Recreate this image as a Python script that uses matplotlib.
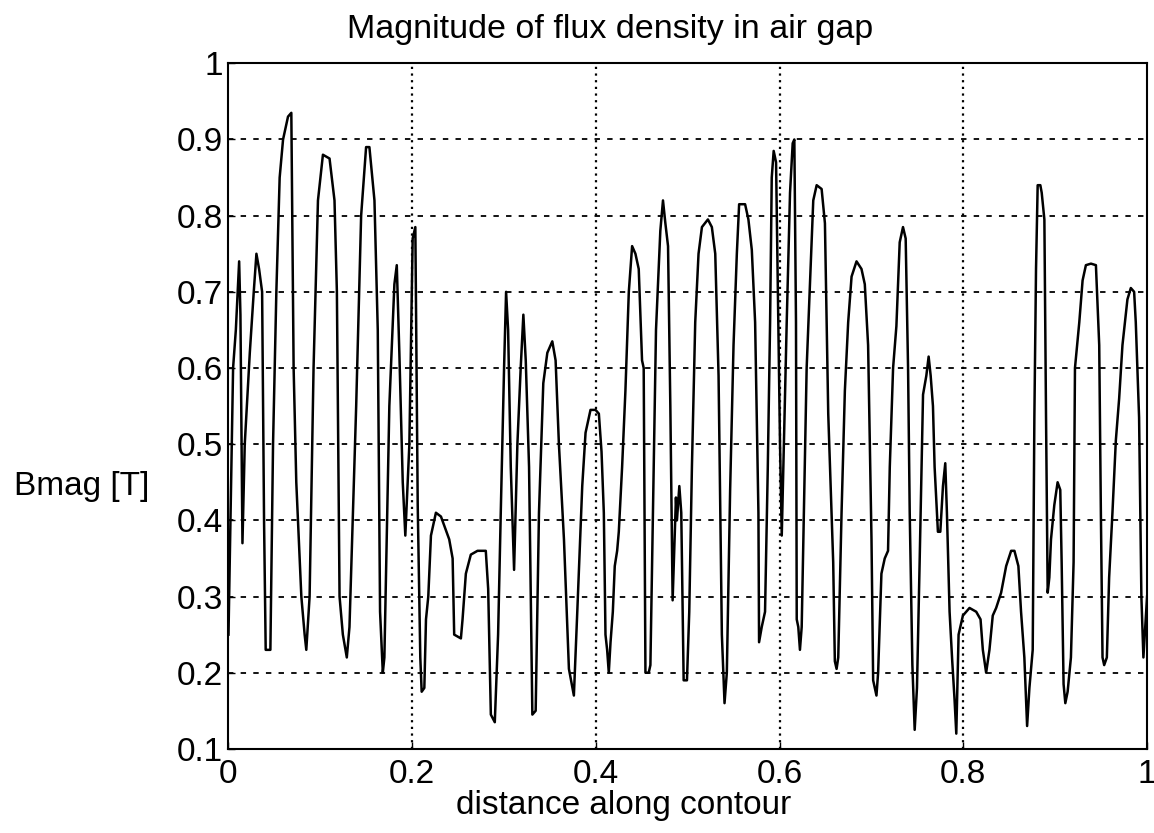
import matplotlib
matplotlib.use('Agg')
import matplotlib.pyplot as plt

plt.rcParams['font.family'] = ['Liberation Sans', 'DejaVu Sans']

# distance along the air gap contour (normalised) and flux density magnitude [T]
distance = [
    0.000, 0.005, 0.008, 0.0116, 0.013, 0.0152, 0.0177, 0.0232, 0.0275, 0.0304,
    0.0333, 0.0366, 0.0387, 0.0405, 0.0456, 0.0485, 0.0521, 0.0557, 0.0594, 0.0648,
    0.0684, 0.0709, 0.0738, 0.0793, 0.0829, 0.0847, 0.0883, 0.0926, 0.0974, 0.1028,
    0.110, 0.1154, 0.118, 0.1209, 0.1245, 0.1288, 0.1317, 0.139, 0.1444, 0.1498,
    0.1534, 0.1589, 0.1625, 0.165, 0.168, 0.1697, 0.1751, 0.1806, 0.1832, 0.186,
    0.1897, 0.1925, 0.1969, 0.2005, 0.2034,
    0.206, 0.2088, 0.2103, 0.2132, 0.215, 0.2175, 0.2204, 0.2258, 0.2313, 0.2403,
    0.244, 0.2457, 0.253, 0.2548, 0.2584, 0.2638, 0.2711, 0.2801, 0.2827, 0.2856,
    0.2899, 0.2935, 0.2964, 0.300, 0.3022, 0.3044, 0.3073, 0.3109, 0.3145, 0.3181,
    0.321, 0.3236, 0.3272, 0.3308, 0.3344, 0.338, 0.3427, 0.3471, 0.3525, 0.3561,
    0.3597, 0.3652, 0.3706, 0.376, 0.3797, 0.3851, 0.3887, 0.3941, 0.3996, 0.4032,
    0.4061, 0.4086, 0.4104, 0.4122, 0.414, 0.4159, 0.4184, 0.4205, 0.4231, 0.4249,
    0.4285, 0.4321, 0.4358, 0.4394, 0.443, 0.4466, 0.4502, 0.452, 0.4539, 0.4575,
    0.4593, 0.4629, 0.4654, 0.4701, 0.473, 0.4756, 0.4785, 0.481, 0.4835, 0.4857,
    0.4871, 0.4882, 0.4908, 0.4929, 0.4955, 0.4991, 0.5016, 0.5045, 0.5081, 0.5117,
    0.5154, 0.5219, 0.5262, 0.5299, 0.5335, 0.5371, 0.540, 0.5425, 0.5461, 0.5498,
    0.5534, 0.5559, 0.5624, 0.566, 0.5697, 0.5733, 0.5769, 0.5776, 0.5805, 0.5841,
    0.5871, 0.5896, 0.5914, 0.5935, 0.5961,
    0.6004, 0.6023, 0.604, 0.6077, 0.6113, 0.6142, 0.616, 0.6178, 0.6186, 0.6203,
    0.6221, 0.624, 0.6258, 0.6294, 0.633, 0.6366, 0.6403, 0.6457, 0.6493, 0.6529,
    0.6565, 0.6583, 0.6601, 0.662, 0.6638, 0.6674, 0.671, 0.6746, 0.6783, 0.6837,
    0.6891, 0.6927, 0.6963, 0.700, 0.7018, 0.7054, 0.7072, 0.7108, 0.7144, 0.718,
    0.7199, 0.7235, 0.7271, 0.7307, 0.7343, 0.7372, 0.7398, 0.7416, 0.7445, 0.747,
    0.7495, 0.7524, 0.7561, 0.7597, 0.7622, 0.7644, 0.7669, 0.7687, 0.7723, 0.7749,
    0.7778, 0.7803, 0.7821, 0.785, 0.7879, 0.7904, 0.7923,
    0.7948, 0.7995, 0.8067, 0.814, 0.8187, 0.8212, 0.8248, 0.8284, 0.832, 0.8357,
    0.8411, 0.8466, 0.852, 0.8556, 0.8599, 0.8628, 0.8664, 0.8694, 0.8719, 0.8755,
    0.8773, 0.8791, 0.8809, 0.8838, 0.8853, 0.8882, 0.890, 0.8918, 0.8936, 0.8954,
    0.899, 0.9026, 0.9055, 0.907, 0.9091, 0.911, 0.9135, 0.9171, 0.920, 0.9215,
    0.9262, 0.9298, 0.9334, 0.9389, 0.9443, 0.9479, 0.9497, 0.9515, 0.9533, 0.9562,
    0.9587, 0.9623, 0.966, 0.9696, 0.9732, 0.9786, 0.9823, 0.9859, 0.9877, 0.9913,
    0.9938, 0.996, 1.000,
]
bmag = [
    0.25, 0.60, 0.65, 0.74, 0.67, 0.37, 0.50, 0.62, 0.70, 0.75,
    0.73, 0.70, 0.40, 0.23, 0.23, 0.50, 0.70, 0.85, 0.90, 0.93,
    0.935, 0.60, 0.45, 0.30, 0.25, 0.23, 0.30, 0.60, 0.82, 0.88,
    0.875, 0.82, 0.70, 0.30, 0.25, 0.22, 0.26, 0.55, 0.80, 0.89,
    0.89, 0.82, 0.65, 0.28, 0.20, 0.22, 0.55, 0.71, 0.735, 0.62,
    0.45, 0.38, 0.50, 0.77, 0.785,
    0.42, 0.22, 0.175, 0.18, 0.27, 0.30, 0.38, 0.41, 0.405, 0.375,
    0.35, 0.25, 0.245, 0.27, 0.33, 0.355, 0.36, 0.36, 0.31, 0.145,
    0.135, 0.25, 0.41, 0.60, 0.70, 0.65, 0.47, 0.335, 0.50, 0.60,
    0.67, 0.61, 0.47, 0.145, 0.15, 0.41, 0.58, 0.62, 0.635, 0.61,
    0.50, 0.375, 0.205, 0.17, 0.28, 0.445, 0.515, 0.545, 0.545, 0.54,
    0.49, 0.41, 0.25, 0.23, 0.20, 0.24, 0.28, 0.34, 0.36, 0.385,
    0.47, 0.57, 0.70, 0.76, 0.75, 0.73, 0.61, 0.60, 0.20, 0.20,
    0.21, 0.47, 0.65, 0.78, 0.82, 0.79, 0.76, 0.55, 0.295, 0.375,
    0.43, 0.40, 0.445, 0.41, 0.19, 0.19, 0.28, 0.47, 0.66, 0.75,
    0.785, 0.795, 0.785, 0.75, 0.59, 0.25, 0.16, 0.20, 0.44, 0.63,
    0.75, 0.815, 0.815, 0.795, 0.755, 0.66, 0.41, 0.24, 0.26, 0.28,
    0.47, 0.66, 0.85, 0.885, 0.87,
    0.50, 0.38, 0.47, 0.66, 0.83, 0.895, 0.90, 0.66, 0.27, 0.26,
    0.23, 0.26, 0.375, 0.60, 0.71, 0.82, 0.84, 0.835, 0.79, 0.54,
    0.41, 0.345, 0.215, 0.205, 0.22, 0.41, 0.57, 0.66, 0.72, 0.74,
    0.73, 0.71, 0.63, 0.375, 0.19, 0.17, 0.20, 0.33, 0.35, 0.36,
    0.47, 0.60, 0.655, 0.765, 0.785, 0.77, 0.60, 0.41, 0.21, 0.125,
    0.18, 0.345, 0.565, 0.59, 0.615, 0.59, 0.55, 0.47, 0.385, 0.385,
    0.445, 0.475, 0.41, 0.28, 0.215, 0.165, 0.12,
    0.25, 0.275, 0.285, 0.28, 0.27, 0.23, 0.20, 0.23, 0.275, 0.285,
    0.305, 0.34, 0.36, 0.36, 0.34, 0.28, 0.22, 0.13, 0.18, 0.23,
    0.535, 0.73, 0.84, 0.84, 0.83, 0.795, 0.535, 0.305, 0.325, 0.375,
    0.42, 0.45, 0.44, 0.345, 0.185, 0.16, 0.175, 0.22, 0.345, 0.60,
    0.66, 0.715, 0.735, 0.737, 0.735, 0.63, 0.41, 0.22, 0.21, 0.22,
    0.325, 0.41, 0.505, 0.56, 0.63, 0.69, 0.705, 0.70, 0.66, 0.535,
    0.30, 0.22, 0.30,
]

xticks = [0, 0.2, 0.4, 0.6, 0.8, 1]
xtick_labels = ['0', '0.2', '0.4', '0.6', '0.8', '1']
yticks = [0.1, 0.2, 0.3, 0.4, 0.5, 0.6, 0.7, 0.8, 0.9, 1]
ytick_labels = ['0.1', '0.2', '0.3', '0.4', '0.5', '0.6', '0.7', '0.8', '0.9', '1']

fig = plt.figure(figsize=(11.54, 8.33), dpi=100)
ax = fig.add_axes([0.198, 0.101, 0.796, 0.823])

ax.plot(distance, bmag, color='black', linewidth=1.8)

ax.set_xlim(0, 1)
ax.set_ylim(0.1, 1)
ax.set_xticks(xticks)
ax.set_xticklabels(xtick_labels)
ax.set_yticks(yticks)
ax.set_yticklabels(ytick_labels)
ax.tick_params(direction='in', length=5, width=1, labelsize=24)
ax.tick_params(axis='y', pad=4)
ax.tick_params(axis='x', pad=7)

# matlab style grid: dashed horizontals, dotted verticals
for yv in yticks[1:-1]:
    ax.axhline(yv, color='black', linewidth=1.3, linestyle=(0, (3, 4)), zorder=0)
for xv in xticks[1:-1]:
    ax.axvline(xv, color='black', linewidth=1.6, linestyle=(0, (1, 2)), zorder=0)

for s in ax.spines.values():
    s.set_linewidth(1.5)

ax.set_title('Magnitude of flux density in air gap', fontsize=24.5, pad=18, x=0.415)
ax.set_xlabel('distance along contour', fontsize=24, labelpad=0, x=0.43)
ax.set_ylabel('Bmag [T]', fontsize=24, rotation=0, ha='right', va='center')
ax.yaxis.set_label_coords(-0.086, 0.382)

fig.savefig('out.png', dpi=100)
